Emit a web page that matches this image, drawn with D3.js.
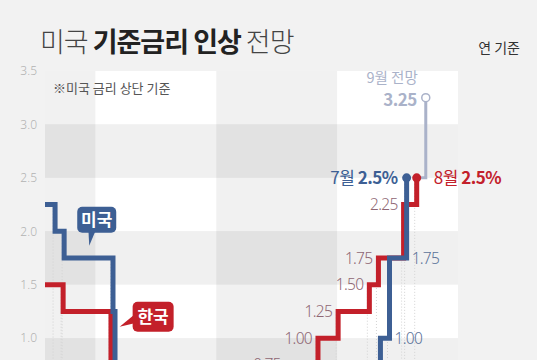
<!DOCTYPE html>
<html>
<head>
<meta charset="utf-8">
<script src="https://cdn.jsdelivr.net/npm/d3@7"></script>
<style>
  body { margin: 0; background: #f2f2f2; }
  svg { display: block; font-family: "Noto Sans CJK KR", "Noto Sans", sans-serif; }
</style>
</head>
<body>
<script>
// months counted from Aug 2019 (0) to Jan 2023 (41)
var yTicks = [3.5, 3.0, 2.5, 2.0, 1.5, 1.0, 0.5, 0];
var yLabels = [3.5, 3.0, 2.5, 2.0, 1.5, 1.0];
var yearStarts = [0, 5, 17, 29, 41];

// 미국 (upper bound), step positions in months
var usMonths = [0, 1.0, 1.9, 6.75, 6.95, 31.5, 33.3, 34.2, 35.9];
var usRates  = [2.25, 2.0, 1.75, 1.25, 0.25, 0.5, 1.0, 1.75, 2.5];

// 한국
var krMonths = [0, 1.8, 6.55, 9.5, 24.0, 27.1, 29.1, 32.2, 33.1, 35.6, 36.9];
var krRates  = [1.5, 1.25, 0.75, 0.5, 0.75, 1.0, 1.25, 1.5, 1.75, 2.25, 2.5];

// 9월 전망
var fcMonths = [37.2, 37.8];
var fcRates  = [2.5, 3.25];

// value labels
var krLabelMonths = [24.0, 27.1, 29.1, 32.2, 33.1, 35.6];
var krLabelRates  = [0.75, 1.0, 1.25, 1.5, 1.75, 2.25];
var usLabelMonths = [34.2, 35.9];
var usLabelRates  = [1.0, 1.75];

var w = 537, h = 360;
var blue = "#3d5f94", red = "#c3202a", gray = "#aab2c9";

var x = d3.scaleLinear().domain([0, 41]).range([45, 458]);
var y = d3.scaleLinear().domain([0, 3.5]).range([445, 71]);

var svg = d3.select("body").append("svg")
  .attr("width", w).attr("height", h);

svg.append("rect").attr("width", w).attr("height", h).attr("fill", "#f2f2f2");

// row bands
var bands = svg.append("g");
for (var i = 0; i < yTicks.length - 1; i++) {
  bands.append("rect")
    .attr("x", x(0)).attr("width", x(41) - x(0))
    .attr("y", y(yTicks[i])).attr("height", y(yTicks[i + 1]) - y(yTicks[i]))
    .attr("fill", i % 2 == 0 ? "#ffffff" : "#f0f0f0");
}
// year columns (2019, 2021 shaded)
for (var j = 0; j < yearStarts.length - 1; j += 2) {
  bands.append("rect")
    .attr("x", x(yearStarts[j])).attr("width", x(yearStarts[j + 1]) - x(yearStarts[j]))
    .attr("y", y(3.5)).attr("height", y(0) - y(3.5))
    .attr("fill", "#000").attr("opacity", 0.055);
}

// y axis
var yAxis = d3.axisLeft(y).tickValues(yLabels).tickFormat(d3.format(".1f")).tickSize(0).tickPadding(8);
var ya = svg.append("g").attr("transform", "translate(" + x(0) + ",0)").call(yAxis);
ya.select(".domain").remove();
ya.selectAll("text").attr("fill", "#b3b3b3").style("font-size", "12px")
  .style("font-weight", 300).style("font-family", "'Noto Sans', sans-serif");

// dotted guides
function guides(ms, rs) {
  for (var k = 1; k < ms.length; k++) {
    svg.append("line")
      .attr("x1", x(ms[k]) - 2).attr("x2", x(ms[k]) - 2)
      .attr("y1", y(Math.max(rs[k], rs[k - 1]))).attr("y2", y(0))
      .attr("stroke", "#d3d3d3").attr("stroke-width", 1).attr("stroke-dasharray", "1,2");
  }
}
guides(usMonths, usRates);
guides(krMonths, krRates);

var line = d3.line().x(function (d) { return x(d[0]); }).y(function (d) { return y(d[1]); })
  .curve(d3.curveStepAfter);

function zip(a, b) { return a.map(function (v, k) { return [v, b[k]]; }); }

// forecast
svg.append("path").datum(zip(fcMonths, fcRates)).attr("d", line)
  .attr("fill", "none").attr("stroke", gray).attr("stroke-width", 3);
svg.append("circle").attr("cx", x(fcMonths[1])).attr("cy", y(fcRates[1])).attr("r", 4)
  .attr("fill", "#fff").attr("stroke", gray).attr("stroke-width", 1.5);

svg.append("path").datum(zip(krMonths, krRates)).attr("d", line)
  .attr("fill", "none").attr("stroke", red).attr("stroke-width", 5);
svg.append("path").datum(zip(usMonths, usRates)).attr("d", line)
  .attr("fill", "none").attr("stroke", blue).attr("stroke-width", 5);

svg.append("circle").attr("cx", x(krMonths[krMonths.length - 1])).attr("cy", y(2.5)).attr("r", 4.5).attr("fill", red);
svg.append("circle").attr("cx", x(usMonths[usMonths.length - 1])).attr("cy", y(2.5)).attr("r", 4.5).attr("fill", blue);

// value labels
krLabelMonths.forEach(function (m, k) {
  svg.append("text").attr("x", x(m) - 6).attr("y", y(krLabelRates[k])).attr("dy", "0.36em")
    .attr("text-anchor", "end").attr("fill", "#8e6673")
    .style("font-size", "15.5px").style("font-weight", 300).style("letter-spacing", "-0.7px")
    .style("font-family", "'Noto Sans', sans-serif")
    .text(d3.format(".2f")(krLabelRates[k]));
});
usLabelMonths.forEach(function (m, k) {
  svg.append("text").attr("x", x(m) + 5).attr("y", y(usLabelRates[k])).attr("dy", "0.36em")
    .attr("fill", "#5b7299")
    .style("font-size", "15.5px").style("font-weight", 300).style("letter-spacing", "-0.7px")
    .style("font-family", "'Noto Sans', sans-serif")
    .text(d3.format(".2f")(usLabelRates[k]));
});

// end labels
var t7 = svg.append("text").attr("x", x(usMonths[usMonths.length - 1]) - 9).attr("y", y(2.5)).attr("dy", "0.36em")
  .attr("text-anchor", "end").attr("fill", blue).style("font-size", "17px").style("letter-spacing", "-0.5px");
t7.append("tspan").text("7월 ");
t7.append("tspan").style("font-weight", 700).text("2.5%");

var t8 = svg.append("text").attr("x", x(fcMonths[1]) + 8).attr("y", y(2.5)).attr("dy", "0.36em")
  .attr("fill", red).style("font-size", "17px").style("letter-spacing", "-0.5px");
t8.append("tspan").text("8월 ");
t8.append("tspan").style("font-weight", 700).text("2.5%");

svg.append("text").attr("x", x(fcMonths[1]) - 8).attr("y", y(3.25) - 20).attr("dy", "0.36em")
  .attr("text-anchor", "end").attr("fill", gray).style("font-size", "14.5px").text("9월 전망");
svg.append("text").attr("x", x(fcMonths[1]) - 9).attr("y", y(3.25) + 2).attr("dy", "0.36em")
  .attr("text-anchor", "end").attr("fill", gray).style("font-size", "17px").style("font-weight", 700)
  .style("letter-spacing", "-0.5px").text("3.25");

// callouts
function bubble(bx, by, bw, bh, tail, color, label) {
  var g = svg.append("g");
  g.append("path").attr("d", "M" + tail[0][0] + "," + tail[0][1] + "L" + tail[1][0] + "," + tail[1][1] + "L" + tail[2][0] + "," + tail[2][1] + "Z")
    .attr("fill", color);
  g.append("rect").attr("x", bx).attr("y", by).attr("width", bw).attr("height", bh).attr("rx", 5).attr("fill", color);
  g.append("text").attr("x", bx + bw / 2).attr("y", by + bh / 2).attr("dy", "0.36em")
    .attr("text-anchor", "middle").attr("fill", "#fff").style("font-size", "17px").style("font-weight", 700)
    .text(label);
}
var ub = [x(3.2), y(2.23)];
bubble(ub[0], ub[1], 39, 26, [[ub[0] + 11, ub[1] + 20], [ub[0] + 20, ub[1] + 20], [ub[0] + 12, ub[1] + 39]], blue, "미국");
var kb = [x(8.7), y(1.34)];
bubble(kb[0], kb[1], 41, 30, [[kb[0] + 4, kb[1] + 11], [kb[0] + 4, kb[1] + 21], [kb[0] - 13, kb[1] + 25]], red, "한국");

// note and titles
svg.append("text").attr("x", 53).attr("y", 88).attr("dy", "0.36em").attr("fill", "#555")
  .style("font-size", "13px").text("※미국 금리 상단 기준");

var title = svg.append("text").attr("x", 40).attr("y", 52).attr("fill", "#222")
  .style("font-size", "27px").style("letter-spacing", "-1px");
title.append("tspan").style("font-weight", 300).attr("fill", "#444").text("미국 ");
title.append("tspan").style("font-weight", 700).text("기준금리 인상");
title.append("tspan").style("font-weight", 300).attr("fill", "#444").text(" 전망");

svg.append("text").attr("x", 520).attr("y", 48).attr("dy", "0.36em").attr("text-anchor", "end")
  .attr("fill", "#333").style("font-size", "14px").text("연 기준");
</script>
</body>
</html>
